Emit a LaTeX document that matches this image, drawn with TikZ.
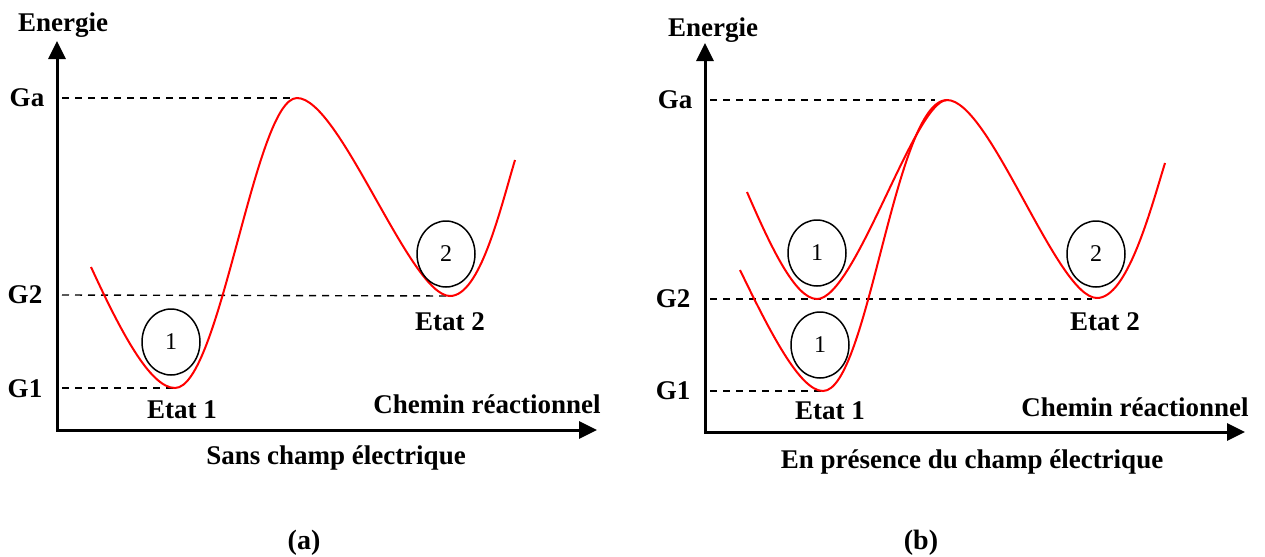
\documentclass[tikz,border=0pt]{standalone}
\usepackage{fontspec}
\setmainfont{Liberation Serif}
\usetikzlibrary{arrows.meta,shapes.geometric}
\begin{document}
\begin{tikzpicture}[x=0.5pt,y=-0.5pt,
  axis/.style={line width=1.5pt,line join=miter,{Triangle[length=9pt,width=8.5pt]}-{Triangle[length=9pt,width=8.5pt]}},
  lvl/.style={dashed,dash pattern=on 3.5pt off 3pt,line width=0.7pt},
  curve/.style={red,line width=1pt},
  ball/.style={draw,line width=0.75pt,ellipse,minimum width=29pt,minimum height=33pt,inner sep=0pt,font=\fontsize{12}{14}\selectfont},
  lab/.style={font=\bfseries\fontsize{13.5}{16}\selectfont,inner sep=0pt},
  captxt/.style={font=\bfseries\fontsize{14}{17}\selectfont,inner sep=0pt}]
\useasboundingbox (0,0) rectangle (1265,557);
% ---------- panel (a)
\coordinate (Ya) at (57,41);
\coordinate (Oa) at (57,430);
\coordinate (Xa) at (597,430);
\draw[axis] (Ya) -- (Oa) -- (Xa);
\node[lab] (Ea) at (63,25) {Energie};
\node[lab] (Gaa) at (27,98) {Ga};
\node[lab] (G2a) at (25,295) {G2};
\node[lab] (G1a) at (25,389) {G1};
\coordinate (pa) at (297,98);
\coordinate (m1a) at (175,388);
\coordinate (m2a) at (450,296);
\coordinate (sa) at (91,267);
\coordinate (ea) at (515,160);
\draw[lvl] (62,98) -- (pa);
\draw[lvl] (62,295) -- (m2a);
\draw[lvl] (62,388) -- (m1a);
\draw[curve] (sa) .. controls (120,330) and (150,388) .. (m1a)
  .. controls (220,388) and (255,98) .. (pa)
  .. controls (340,98) and (410,296) .. (m2a)
  .. controls (480,296) and (500,210) .. (ea);
\node[ball] (b1a) at (171,342) {1};
\node[ball] (b2a) at (446,254) {2};
\node[lab] (et1a) at (182,410) {Etat 1};
\node[lab] (et2a) at (450,322) {Etat 2};
\node[lab] (cha) at (487,404) {Chemin réactionnel};
\node[lab] (sca) at (336,458) {Sans champ électrique};
\node[captxt] (capa) at (304,543) {(a)};
% ---------- panel (b)
\coordinate (Yb) at (705,43);
\coordinate (Ob) at (705,432);
\coordinate (Xb) at (1245,432);
\draw[axis] (Yb) -- (Ob) -- (Xb);
\node[lab] (Eb) at (713,30) {Energie};
\node[lab] (Gab) at (675,100) {Ga};
\node[lab] (G2b) at (673,299) {G2};
\node[lab] (G1b) at (673,391) {G1};
\coordinate (pb) at (947,100);
\coordinate (m1b) at (823,391);
\coordinate (m1u) at (817,299);
\coordinate (m2b) at (1097,298);
\coordinate (sb) at (740,270);
\coordinate (su) at (747,192);
\coordinate (eb) at (1165,163);
\draw[lvl] (710,100) -- (935,100);
\draw[lvl] (710,299) -- (1092,299);
\draw[lvl] (710,391) -- (m1b);
\draw[curve] (sb) .. controls (770,332) and (800,391) .. (m1b)
  .. controls (868,391) and (895,100) .. (pb)
  .. controls (990,100) and (1057,298) .. (m2b)
  .. controls (1127,298) and (1150,212) .. (eb);
\draw[curve] (su) .. controls (770,245) and (795,299) .. (m1u)
  .. controls (855,299) and (915,100) .. (pb);
\node[ball] (b1u) at (817,253) {1};
\node[ball] (b1b) at (820,345) {1};
\node[ball] (b2b) at (1096,254) {2};
\node[lab] (et1b) at (830,411) {Etat 1};
\node[lab] (et2b) at (1105,322) {Etat 2};
\node[lab] (chb) at (1135,407) {Chemin réactionnel};
\node[lab] (scb) at (972,462) {En présence du champ électrique};
\node[captxt] (capb) at (921,543) {(b)};
\end{tikzpicture}
\end{document}
